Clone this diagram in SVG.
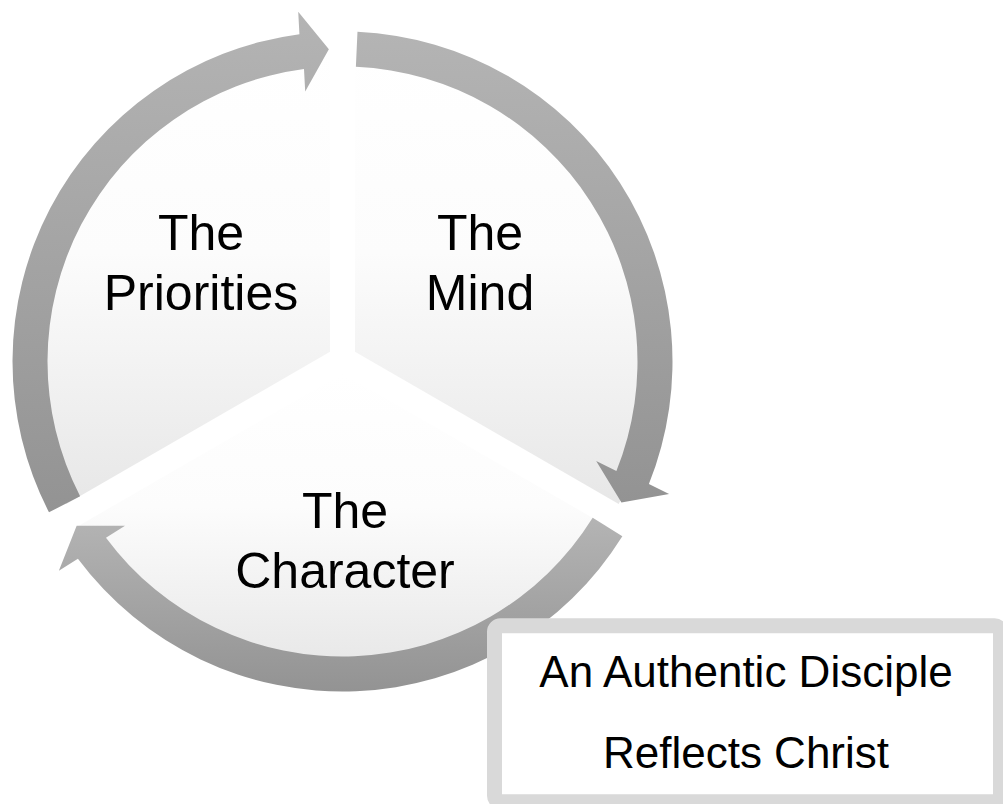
<svg xmlns="http://www.w3.org/2000/svg" width="1003" height="804" viewBox="0 0 1003 804">
  <defs>
    <linearGradient id="pieGrad" x1="0" y1="0" x2="0" y2="1">
      <stop offset="0" stop-color="#ffffff"/>
      <stop offset="0.45" stop-color="#fcfcfc"/>
      <stop offset="1" stop-color="#e7e7e7"/>
    </linearGradient>
    <linearGradient id="arrowGrad" x1="0" y1="0" x2="0" y2="1">
      <stop offset="0" stop-color="#b4b4b4"/>
      <stop offset="1" stop-color="#939393"/>
    </linearGradient>
  </defs>
  <style>
    .seg { fill: url(#pieGrad); stroke: none; }
    .arrow { fill: url(#arrowGrad); stroke: none; }
    .lbl { font-family: "Liberation Sans", Arial, sans-serif; font-size: 50px; fill: #000000; text-anchor: middle; }
    .boxlbl { font-family: "Liberation Sans", Arial, sans-serif; font-size: 44px; fill: #000000; text-anchor: middle; }
  </style>
  <rect x="0" y="0" width="1003" height="804" fill="#ffffff"/>

  <g id="seg-priorities">
    <path class="seg" d="M330,351.78 L330,47.25 A312,312 0 0 0 66.27,504.05 Z"/>
    <text class="lbl" x="201" y="250">The</text>
    <text class="lbl" x="201" y="310">Priorities</text>
  </g>
  <g id="seg-mind">
    <path class="seg" d="M355,351.78 L355,47.25 A312,312 0 0 1 618.73,504.05 Z"/>
    <text class="lbl" x="480" y="250">The</text>
    <text class="lbl" x="480" y="310">Mind</text>
  </g>
  <g id="seg-character">
    <path class="seg" d="M342.5,373.43 L606.23,525.70 A312,312 0 0 1 78.77,525.70 Z"/>
    <text class="lbl" x="345" y="528">The</text>
    <text class="lbl" x="345" y="588">Character</text>
  </g>

  <g id="connectors">
    <path class="arrow" d="M357.47,31.84 A330,330 0 0 1 648.90,484.05 L669.11,494.01 L621.43,502.40 L596.19,461.09 L616.40,471.05 A295,295 0 0 0 355.88,66.80 Z"/>
    <path class="arrow" d="M622.36,536.37 A330,330 0 0 1 77.91,558.72 L58.86,570.74 L76.66,525.79 L125.02,525.78 L105.97,537.80 A295,295 0 0 0 592.67,517.83 Z"/>
    <path class="arrow" d="M48.99,512.32 A330,330 0 0 1 299.43,34.32 L298.22,11.82 L328.87,49.30 L305.20,91.52 L303.99,69.03 A295,295 0 0 0 80.12,496.33 Z"/>
  </g>

  <g id="box-disciple">
    <rect x="494.5" y="625.8" width="506" height="176" rx="6" ry="6" fill="#ffffff" stroke="#d9d9d9" stroke-width="15"/>
    <text class="boxlbl" x="746" y="687">An Authentic Disciple</text>
    <text class="boxlbl" x="746" y="768">Reflects Christ</text>
  </g>
</svg>
